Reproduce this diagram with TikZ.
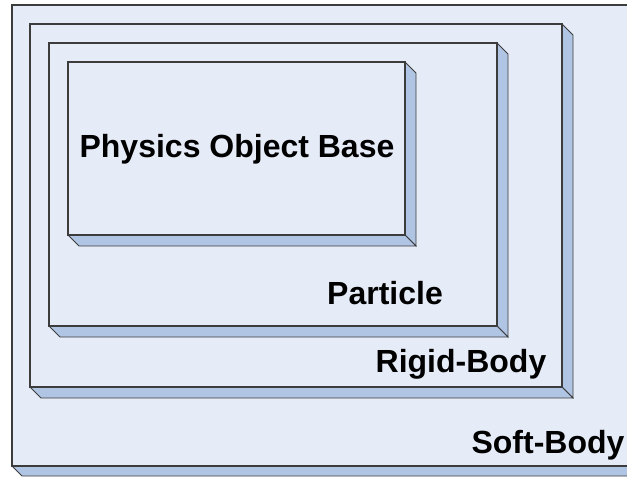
\documentclass[tikz,border=0pt]{standalone}
\usepackage{fontspec}
\setmainfont{Liberation Sans}
\usepackage{tikz}
\usetikzlibrary{calc}
\definecolor{FaceBlue}{RGB}{230,236,247}
\definecolor{BevelBlue}{RGB}{176,196,228}
\definecolor{EdgeGray}{RGB}{60,60,60}

\tikzset{
  face/.style = {fill = FaceBlue, draw = EdgeGray, line width = 1.2pt},
  bevel/.style = {fill = BevelBlue, draw = EdgeGray, line width = .8pt, line join = miter},
  label/.style = {font = \bfseries\fontsize{32}{32}\selectfont, anchor = base, inner sep = 0pt}
}

% raised slab: #1 name, (#2,#3) top left, (#4,#5) bottom right, #6 depth
\newcommand{\slab}[6]{%
  \coordinate (#1-nw) at (#2,#3); \coordinate (#1-se) at (#4,#5);
  \coordinate (#1-ne) at (#4,#3); \coordinate (#1-sw) at (#2,#5);
  \filldraw[bevel] (#1-ne) -- ++(#6,#6) -- ($(#1-se)+(#6,#6)$) -- (#1-se) -- cycle;
  \filldraw[bevel] (#1-sw) -- ++(#6,#6) -- ($(#1-se)+(#6,#6)$) -- (#1-se) -- cycle;
  \filldraw[face] (#1-nw) rectangle (#1-se);
}

\begin{document}
\begin{tikzpicture}[x = 1pt, y = -1pt]
  \useasboundingbox (0,0) rectangle (627,477);
  \clip (0,0) rectangle (627,477);

  % nested layers, outermost first
  \slab{soft}{12}{5}{640}{466}{10}
  \slab{rigid}{30}{24}{562}{387}{11}
  \slab{particle}{49}{43}{497}{326}{11}
  \slab{base}{68}{62}{405}{235}{11}

  % layer names
  \node[label] (baselbl) at (237,157) {Physics Object Base};
  \node[label] (particlelbl) at (385,304) {Particle};
  \node[label] (rigidlbl) at (461,372) {Rigid-Body};
  \node[label] (softlbl) at (548,453) {Soft-Body};

\end{tikzpicture}
\end{document}
